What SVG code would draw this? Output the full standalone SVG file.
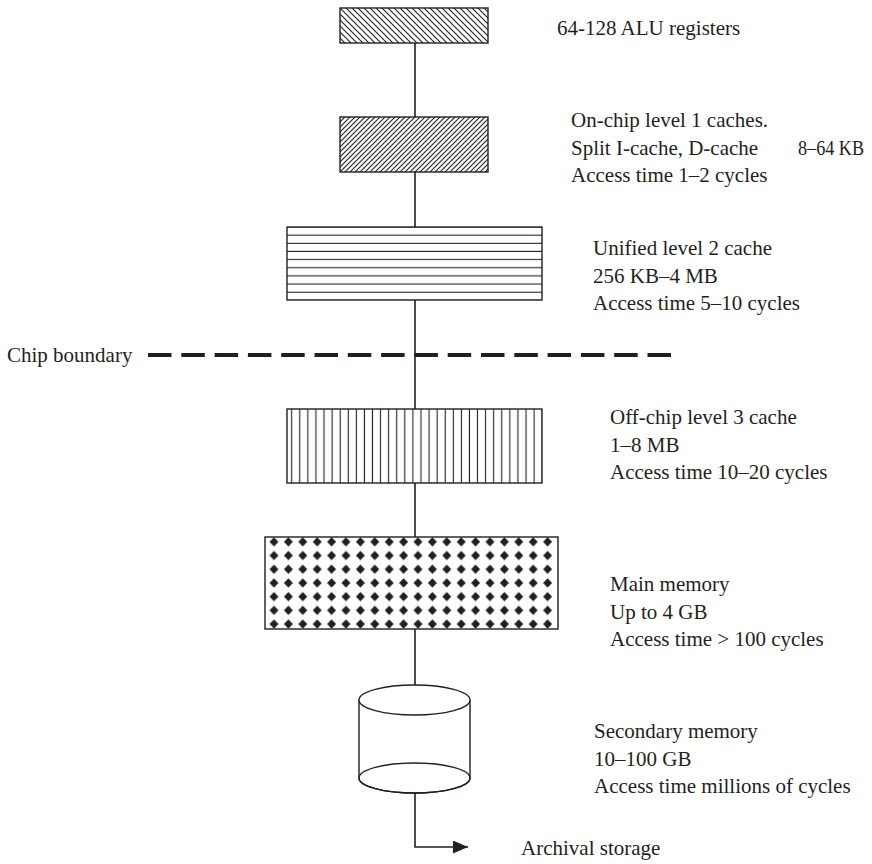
<svg xmlns="http://www.w3.org/2000/svg" width="872" height="864" viewBox="0 0 872 864">
  <style>
    .lbl { font-family: "Liberation Serif", "Times New Roman", serif; font-size: 21px; fill: #231f20; }
    .box { stroke: #231f20; stroke-width: 1.4; }
    .wire { stroke: #231f20; stroke-width: 1.6; fill: none; }
    .hatch { stroke: #231f20; stroke-width: 1.1; }
  </style>
  <defs>
    <!-- back-slash hatch for the register file -->
    <pattern id="hatchBack" patternUnits="userSpaceOnUse" x="340" y="8" width="6" height="6">
      <rect width="6" height="6" fill="#fff"/>
      <path class="hatch" d="M0,0 L6,6 M-3,3 L3,9 M3,-3 L9,3"/>
    </pattern>
    <!-- forward-slash hatch for the L1 caches -->
    <pattern id="hatchFwd" patternUnits="userSpaceOnUse" x="340" y="117" width="5" height="5">
      <rect width="5" height="5" fill="#fff"/>
      <path class="hatch" stroke-width="1.3" d="M0,5 L5,0 M-2.5,2.5 L2.5,-2.5 M2.5,7.5 L7.5,2.5"/>
    </pattern>
    <!-- horizontal rules for the L2 cache -->
    <pattern id="hRules" patternUnits="userSpaceOnUse" x="0" y="231.15" width="10" height="8.15">
      <rect width="10" height="8.15" fill="#fff"/>
      <line class="hatch" x1="0" y1="4" x2="10" y2="4" stroke-width="1.6"/>
    </pattern>
    <!-- vertical rules for the L3 cache -->
    <pattern id="vRules" patternUnits="userSpaceOnUse" x="287.7" y="0" width="8.08" height="10">
      <rect width="8.08" height="10" fill="#fff"/>
      <line class="hatch" x1="4" y1="0" x2="4" y2="10" stroke-width="1.5"/>
    </pattern>
    <!-- diamond dots for main memory -->
    <pattern id="diamonds" patternUnits="userSpaceOnUse" x="266.8" y="535" width="14.4" height="13.7">
      <rect width="14.4" height="13.7" fill="#fff"/>
      <path d="M7.2,2.3 L11.7,6.85 L7.2,11.4 L2.7,6.85 Z" fill="#231f20"/>
    </pattern>
    <marker id="arrowHead" markerWidth="15" markerHeight="13" refX="15" refY="6.5" orient="auto" markerUnits="userSpaceOnUse">
      <path d="M0,0 L15,6.5 L0,13 Z" fill="#231f20"/>
    </marker>
  </defs>

  <!-- vertical links between levels -->
  <g id="connectors">
    <line class="wire" x1="415" y1="43" x2="415" y2="117"/>
    <line class="wire" x1="415" y1="172" x2="415" y2="227"/>
    <line class="wire" x1="415" y1="300" x2="415" y2="409"/>
    <line class="wire" x1="415" y1="483" x2="415" y2="537"/>
    <line class="wire" x1="415" y1="629" x2="415" y2="685"/>
    <path class="wire" d="M415,793 L415,847 L468,847" marker-end="url(#arrowHead)"/>
  </g>

  <g id="chip-boundary">
    <line x1="148" y1="355" x2="672" y2="355" stroke="#231f20" stroke-width="4" stroke-dasharray="23.5 9.8"/>
    <text class="lbl" x="7" y="362">Chip boundary</text>
  </g>

  <g id="registers">
    <rect class="box" x="340" y="8" width="148" height="35" fill="url(#hatchBack)"/>
    <text class="lbl" x="557" y="35">64-128 ALU registers</text>
  </g>

  <g id="l1-cache">
    <rect class="box" x="340" y="117" width="148" height="55" fill="url(#hatchFwd)"/>
    <text class="lbl" x="571" y="127">On-chip level 1 caches.</text>
    <text class="lbl" x="571" y="154.5">Split I-cache, D-cache</text>
    <text class="lbl" x="798" y="154.5" font-size="20" textLength="66" lengthAdjust="spacingAndGlyphs">8–64 KB</text>
    <text class="lbl" x="571" y="182">Access time 1–2 cycles</text>
  </g>

  <g id="l2-cache">
    <rect class="box" x="287" y="227" width="255" height="73" fill="url(#hRules)"/>
    <text class="lbl" x="593" y="255">Unified level 2 cache</text>
    <text class="lbl" x="593" y="282.5">256 KB–4 MB</text>
    <text class="lbl" x="593" y="310">Access time 5–10 cycles</text>
  </g>

  <g id="l3-cache">
    <rect class="box" x="287" y="409" width="255" height="74" fill="url(#vRules)"/>
    <text class="lbl" x="610" y="424">Off-chip level 3 cache</text>
    <text class="lbl" x="610" y="451.5">1–8 MB</text>
    <text class="lbl" x="610" y="479">Access time 10–20 cycles</text>
  </g>

  <g id="main-memory">
    <rect class="box" x="265" y="537" width="293" height="92" fill="url(#diamonds)"/>
    <text class="lbl" x="610" y="591">Main memory</text>
    <text class="lbl" x="610" y="618.5">Up to 4 GB</text>
    <text class="lbl" x="610" y="646">Access time &gt; 100 cycles</text>
  </g>

  <g id="secondary-memory">
    <path class="box" fill="#fff" d="M359,700 L359,778 A55.5,15 0 0 0 470,778 L470,700"/>
    <ellipse class="box" fill="#fff" cx="414.5" cy="700" rx="55.5" ry="15"/>
    <ellipse class="box" fill="none" cx="414.5" cy="778" rx="55.5" ry="15"/>
    <text class="lbl" x="594" y="738">Secondary memory</text>
    <text class="lbl" x="594" y="765.5">10–100 GB</text>
    <text class="lbl" x="594" y="793">Access time millions of cycles</text>
  </g>

  <g id="archival">
    <text class="lbl" x="521" y="855">Archival storage</text>
  </g>
</svg>
